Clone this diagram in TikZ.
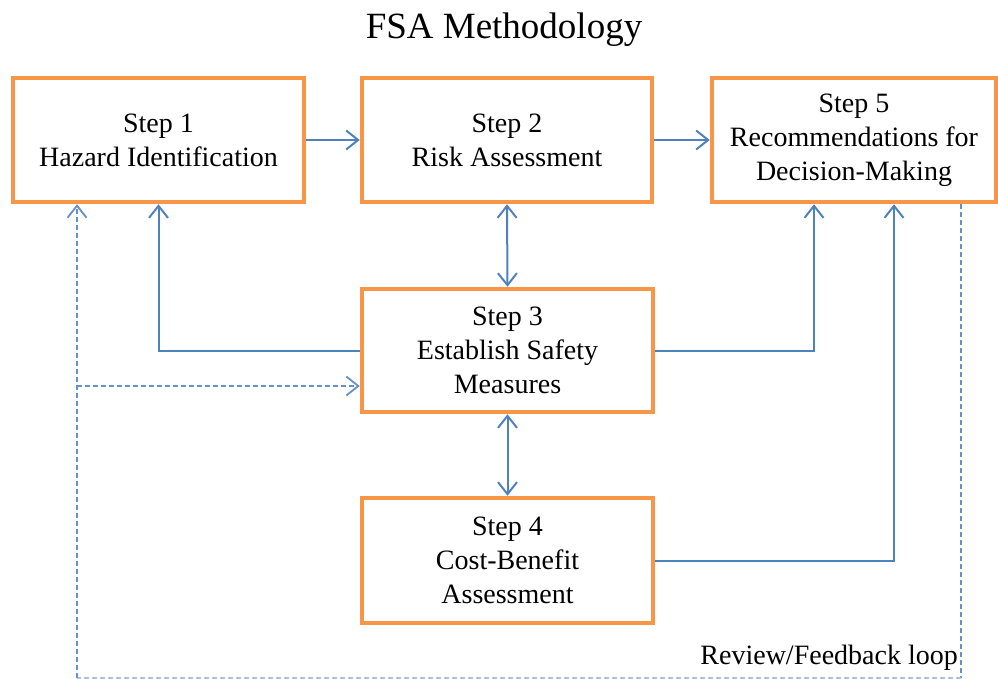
\documentclass[tikz,border=0pt]{standalone}
\usepackage{fontspec}
\setmainfont{Liberation Serif}
\usetikzlibrary{arrows.meta,calc}

\definecolor{boxorange}{HTML}{F79646}
\definecolor{linkblue}{HTML}{4F81BD}
\definecolor{loopblue}{HTML}{6590C8}
\definecolor{loopfaint}{HTML}{A9C2E3}

\tikzset{
  stepbox/.style={draw=boxorange, line width=4.5pt, fill=white, rectangle,
    align=center, font=\fontsize{28}{34}\selectfont, inner sep=0pt},
  link/.style={draw=linkblue, line width=2pt},
  tip/.style={-{Straight Barb[length=12pt,width=19pt,line width=2pt]}},
  dtip/.style={{Straight Barb[length=12pt,width=19pt,line width=2pt]}-{Straight Barb[length=12pt,width=19pt,line width=2pt]}},
  loopline/.style={draw=loopblue, line width=1.8pt, dash pattern=on 5pt off 3pt},
  looptip/.style={-{Straight Barb[length=12pt,width=19pt,line width=1.8pt]}},
}

\begin{document}
\begin{tikzpicture}[x=1pt, y=-1pt]
  \useasboundingbox (0,0) rectangle (998,679);

  % title
  \node[anchor=base, font=\fontsize{37}{44}\selectfont] (title) at (504,39) {FSA Methodology};

  % the five steps
  \node[stepbox, minimum width=291pt, minimum height=124pt] (b1) at (158.5,140) {Step 1\\Hazard Identification};
  \node[stepbox, minimum width=290pt, minimum height=124pt] (b2) at (507,140) {Step 2\\Risk Assessment};
  \node[stepbox, minimum width=284pt, minimum height=124pt] (b5) at (854,140) {Step 5\\Recommendations for\\Decision-Making};
  \node[stepbox, minimum width=291pt, minimum height=123pt] (b3) at (507.5,350.5) {Step 3\\Establish Safety\\Measures};
  \node[stepbox, minimum width=291pt, minimum height=125pt] (b4) at (507.5,560.5) {Step 4\\Cost-Benefit\\Assessment};

  % main flow
  \draw[link, tip] (b1.east) -- (b2.west);
  \draw[link, tip] (b2.east) -- (b5.west);
  \draw[link, dtip] (b2.south) -- (b3.north);
  \draw[link, dtip] (b3.south) -- (b4.north);
  \draw[link, tip] (b3.west) -| (b1.south);
  \coordinate (in5a) at (814,202);
  \coordinate (in5b) at (894,202);
  \draw[link, tip] (b3.east) -| (in5a |- b5.south);
  \draw[link, tip] (b4.east) -| (in5b |- b5.south);

  % review / feedback loop
  \coordinate (out5) at (961,202);
  \coordinate (fbR) at (961,678);
  \coordinate (fbL) at (77,678);
  \coordinate (fbM) at (77,386);
  \draw[loopline] (out5 |- b5.south) -- (fbR);
  \draw[loopline, draw=loopfaint] (fbR) -- (fbL);
  \draw[loopline, looptip] (fbL) -- (fbL |- b1.south);
  \draw[loopline, looptip] (fbM) -- (fbM -| b3.west);

  \node[anchor=base east, font=\fontsize{28}{34}\selectfont, inner sep=0pt] (fblabel) at (958,664) {Review/Feedback loop};
\end{tikzpicture}
\end{document}
